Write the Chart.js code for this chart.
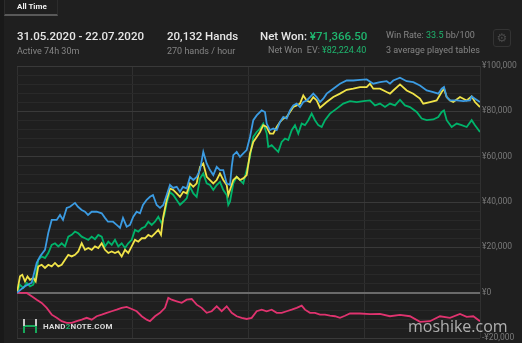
<!DOCTYPE html>
<html>
<head>
<meta charset="utf-8">
<script src="https://cdn.jsdelivr.net/npm/chart.js@4.4.1/dist/chart.umd.min.js"></script>
<style>
html, body { margin: 0; padding: 0; width: 522px; height: 343px; overflow: hidden; background: #1f1f1f; font-family: Roboto, "Noto Sans", sans-serif; }
#strip { position: absolute; left: 0; top: 0; width: 4px; height: 343px; background: #191919; }
#chart { position: absolute; left: 0; top: 0; }
.t { position: absolute; white-space: nowrap; }
.big { font-size: 11.5px; line-height: 14px; color: #e6e6e6; font-weight: 500; }
.small { font-size: 9px; line-height: 11px; color: #858585; }
.g { color: #1fb56e; }
#tab { position: absolute; left: 4px; top: -1px; width: 52px; height: 14px; border: 1px solid #2c2c2c; border-bottom: 2px solid #595959; }
#tab span { position: absolute; left: 12px; top: 2px; font-size: 8px; line-height: 10px; font-weight: 700; color: #f0f0f0; }
#gear { position: absolute; left: 493px; top: 29px; width: 16px; height: 16px; border: 1px solid #333; border-radius: 3px; color: #4a4a4a; font-size: 12px; line-height: 16px; text-align: center; font-family: "DejaVu Sans", sans-serif; }
#logo { position: absolute; left: 22px; top: 319px; width: 16px; height: 14px; }
#logo .a { position: absolute; background: #c8c8c8; }
#logo .b { position: absolute; background: #17a85a; }
#h2n { position: absolute; left: 43px; top: 322px; font-size: 8px; line-height: 10px; font-weight: 700; color: #d8d8d8; letter-spacing: 0.2px; }
#mark { position: absolute; left: 408px; top: 315px; font-family: "Open Sans", sans-serif; font-size: 16px; line-height: 22px; color: rgba(215,215,215,0.78); }
</style>
</head>
<body>
<div id="strip"></div>
<canvas id="chart" width="522" height="352"></canvas>

<div id="tab"><span>All Time</span></div>

<div class="t big" style="left:17px; top:29px;">31.05.2020 - 22.07.2020</div>
<div class="t small" style="left:17px; top:46px;">Active 74h 30m</div>

<div class="t big" style="left:167px; top:29px;">20,132 Hands</div>
<div class="t small" style="left:167px; top:46px;">270 hands / hour</div>

<div class="t big" style="left:260px; top:29px;">Net Won: <span class="g">¥71,366.50</span></div>
<div class="t small" style="left:268px; top:45px;">Net Won&nbsp; EV: <span class="g">¥82,224.40</span></div>

<div class="t small" style="left:386px; top:30px;">Win Rate: <span class="g">33.5</span> bb/100</div>
<div class="t small" style="left:386px; top:45px;">3 average played tables</div>

<div id="gear">⚙</div>

<div id="logo">
  <div class="a" style="left:1px; top:0; width:2px; height:7px;"></div>
  <div class="b" style="left:1px; top:7px; width:2px; height:7px;"></div>
  <div class="a" style="left:13px; top:0; width:2px; height:7px;"></div>
  <div class="b" style="left:13px; top:7px; width:2px; height:7px;"></div>
  <div class="b" style="left:3px; top:6px; width:10px; height:2px;"></div>
</div>
<div id="h2n">HAND<span class="g">2</span>NOTE.COM</div>
<div id="mark">moshike.com</div>

<script>
// blue: showdown winnings
const showdownHands = [
  0, 348, 639, 857, 1000, 1217, 1361, 1509, 1726, 1870,
  2000, 2161, 2304, 2522, 2652, 2813, 2957, 3087, 3248, 3465,
  3683, 3826, 3957, 4174, 4335, 4478, 4609, 4770, 4913, 5057,
  5204, 5348, 5478, 5639, 5783, 5913, 6074, 6218, 6361, 6509,
  6652, 6783, 6944, 7087, 7217, 7378, 7522, 7666, 7813, 7957,
  8100, 8248, 8392, 8535, 8683, 8826, 8970, 9118, 9261, 9335,
  9405, 9553, 9696, 9840, 9987, 10131, 10274, 10422, 10640, 10783,
  10857, 11000, 11144, 11292, 11435, 11579, 11727, 11870, 12013, 12161,
  12305, 12448, 12596, 12739, 12883, 13031, 13174, 13318, 13466, 13753,
  14044, 14335, 14622, 14914, 15205, 15492, 15783, 16074, 16218, 16361,
  16653, 16944, 17231, 17522, 17814, 18101, 18318, 18466, 18566, 18683,
  18827, 19118, 19405, 19696, 19770, 19914, 20132
];
const showdownWon = [
  0, 2800, 4400, 13200, 16000, 18900, 26400, 32100, 32100, 34300,
  32100, 37400, 37900, 39600, 37900, 36500, 35700, 34300, 35700, 35700,
  35000, 33000, 31300, 31300, 29900, 28600, 33000, 29100, 29900, 33500,
  35700, 35000, 38700, 41000, 42300, 43100, 38700, 37400, 38700, 43100,
  47500, 46200, 46700, 44500, 46700, 46000, 51100, 49700, 51100, 54100,
  62100, 57000, 54100, 51900, 55500, 54100, 54100, 48200, 47500, 55500,
  60700, 62100, 59900, 61400, 62900, 68700, 76100, 78200, 80400, 79700,
  74600, 71700, 72400, 71700, 75300, 77500, 76800, 80400, 82600, 83400,
  81900, 84100, 84800, 86300, 87800, 86300, 84100, 85600, 87800, 90000,
  92200, 93600, 93600, 93900, 94100, 92200, 92900, 93300, 92200, 93600,
  94800, 93300, 92900, 91400, 89200, 88500, 87800, 90000, 90700, 86300,
  84800, 84800, 84500, 84800, 86600, 85600, 84100
];

// yellow: all-in EV
const evHands = [
  0, 130, 230, 348, 457, 565, 709, 813, 926, 1074,
  1217, 1361, 1509, 1652, 1796, 1943, 2087, 2230, 2378, 2522,
  2665, 2813, 2957, 3100, 3248, 3391, 3535, 3683, 3826, 3970,
  4118, 4261, 4405, 4552, 4696, 4839, 4987, 5131, 5274, 5422,
  5565, 5709, 5857, 6000, 6144, 6261, 6361, 6509, 6652, 6796,
  6944, 7087, 7231, 7378, 7522, 7666, 7813, 7957, 8100, 8248,
  8392, 8535, 8683, 8826, 8970, 9118, 9187, 9261, 9405, 9553,
  9696, 9840, 9987, 10131, 10274, 10422, 10565, 10709, 10857, 11000,
  11144, 11292, 11435, 11579, 11727, 11870, 12013, 12161, 12305, 12448,
  12596, 12739, 12883, 13031, 13174, 13466, 13753, 14044, 14335, 14622,
  14914, 15205, 15348, 15492, 15783, 16074, 16218, 16361, 16653, 16944,
  17231, 17522, 17666, 17957, 18248, 18466, 18566, 18683, 18827, 18970,
  19262, 19553, 19770, 19914, 20132
];
const evWon = [
  0, 7200, 7900, 5000, 7200, 5700, 6500, 5000, 11600, 12300,
  10900, 12300, 11600, 13100, 11600, 12300, 14500, 16700, 16000, 16700,
  18200, 21800, 18900, 19700, 18900, 20400, 19700, 21800, 18900, 17500,
  18200, 17500, 18200, 16000, 18900, 17500, 20400, 23300, 22500, 24000,
  24000, 25500, 24700, 26200, 27700, 25500, 33500, 40900, 46000, 45300,
  43800, 42300, 44500, 43800, 48200, 46700, 48200, 55500, 57000, 51100,
  49700, 48200, 49700, 52600, 49700, 47500, 43100, 45300, 49700, 51100,
  49700, 50400, 51900, 61400, 66500, 68700, 70900, 73900, 73100, 70200,
  70200, 73100, 75300, 76800, 77500, 79700, 81900, 82600, 83400, 87000,
  84800, 84100, 86300, 84800, 81600, 84100, 86300, 87800, 89500, 90000,
  90700, 90700, 92200, 90000, 90000, 88500, 87800, 89200, 91900, 89200,
  87800, 85600, 83400, 84100, 84800, 88500, 90000, 86300, 84800, 84100,
  86300, 84800, 86600, 84100, 81900
];

// green: net won
const netHands = [
  0, 130, 274, 422, 565, 709, 813, 926, 1074, 1217,
  1361, 1509, 1652, 1796, 1943, 2087, 2230, 2378, 2522, 2665,
  2813, 2957, 3100, 3248, 3391, 3535, 3683, 3826, 3970, 4118,
  4261, 4405, 4552, 4696, 4839, 4987, 5131, 5274, 5422, 5565,
  5709, 5857, 6000, 6144, 6291, 6405, 6509, 6652, 6796, 6944,
  7087, 7231, 7378, 7522, 7666, 7813, 7957, 8100, 8248, 8392,
  8535, 8683, 8826, 8970, 9118, 9187, 9261, 9405, 9553, 9696,
  9840, 9987, 10131, 10274, 10422, 10565, 10709, 10857, 10926, 11074,
  11218, 11361, 11509, 11653, 11796, 11944, 12087, 12231, 12379, 12522,
  12666, 12813, 12957, 13100, 13248, 13392, 13609, 13900, 14187, 14478,
  14770, 15057, 15348, 15566, 15783, 16001, 16218, 16435, 16653, 16870,
  17088, 17379, 17596, 17814, 18101, 18318, 18466, 18566, 18683, 18900,
  19118, 19335, 19553, 19770, 19914, 20132
];
const netWon = [
  0, 3500, 2100, 4300, 2800, 3500, 7200, 14500, 16000, 15300,
  17500, 21100, 21800, 20400, 21800, 20400, 24700, 25500, 26900, 26200,
  24700, 24000, 23300, 24700, 23600, 25500, 24700, 20400, 22500, 21100,
  23300, 20400, 21800, 19700, 21800, 23300, 27700, 26900, 28400, 29100,
  31300, 29900, 31300, 33500, 30600, 34300, 39400, 44400, 43100, 40900,
  38700, 40100, 41600, 46700, 43800, 42300, 50400, 52600, 48200, 47500,
  45300, 47500, 48900, 45300, 43100, 38700, 40100, 48200, 51100, 49700,
  48200, 54100, 59900, 68700, 70900, 72400, 74600, 70200, 64300, 65100,
  63600, 62100, 66500, 68000, 67300, 71700, 73900, 70200, 74600, 73900,
  76100, 79000, 76100, 73900, 73100, 76100, 79000, 81200, 83400, 84500,
  84100, 84500, 84800, 82600, 83400, 81900, 83400, 82600, 85100, 82600,
  81900, 79700, 76800, 76100, 76400, 77500, 79700, 80400, 76100, 73100,
  74600, 73900, 73100, 76100, 73900, 70900
];

// red: non-showdown winnings
const nonShowdownHands = [
  0, 204, 422, 639, 857, 1074, 1291, 1509, 1726, 1943,
  2161, 2378, 2596, 2813, 3031, 3248, 3465, 3683, 3900, 4118,
  4335, 4552, 4770, 4987, 5204, 5422, 5639, 5783, 6000, 6218,
  6435, 6579, 6726, 6944, 7161, 7378, 7596, 7813, 8031, 8248,
  8466, 8683, 8900, 9118, 9335, 9553, 9770, 9987, 10205, 10422,
  10640, 10857, 11074, 11292, 11509, 11727, 11944, 12161, 12379, 12522,
  12739, 12957, 13174, 13392, 13609, 13827, 14044, 14261, 14478, 14914,
  15348, 15783, 16218, 16653, 17088, 17522, 17957, 18392, 18827, 19262,
  19553, 19840, 20132
];
const nonShowdownWon = [
  0, -100, -100, -1600, -3100, -4500, -6700, -9700, -11100, -12600,
  -13300, -13300, -12600, -11900, -11100, -11900, -10400, -9700, -8900, -8200,
  -7500, -6700, -6300, -7200, -8200, -10400, -11900, -12600, -10400, -8900,
  -6700, -2300, -3100, -3800, -4500, -3100, -2800, -5300, -6700, -8900,
  -8200, -6000, -8200, -6000, -8900, -10400, -11100, -11600, -11100, -8200,
  -7500, -8200, -7500, -8900, -8900, -8200, -7500, -6700, -5700, -7500,
  -8900, -8900, -9700, -9700, -10100, -10400, -11100, -10200, -9200, -9200,
  -9500, -9400, -10400, -9800, -10400, -12900, -12600, -10400, -11100, -9400,
  -10700, -10400, -12600
];

const totalHands = 20132;
const yenTicks = [-20000, 0, 20000, 40000, 60000, 80000, 100000];

function points(hands, values) {
  return hands.map((h, i) => ({ x: h, y: values[i] }));
}

function line(hands, values, color) {
  return {
    data: points(hands, values),
    borderColor: color,
    borderWidth: 1.8,
    pointRadius: 0,
    tension: 0,
    fill: false
  };
}

new Chart(document.getElementById('chart'), {
  type: 'line',
  data: {
    datasets: [
      line(showdownHands, showdownWon, '#3b9be2'),
      line(evHands, evWon, '#f0e348'),
      line(netHands, netWon, '#00b36a'),
      line(nonShowdownHands, nonShowdownWon, '#e0336f')
    ]
  },
  options: {
    responsive: false,
    animation: false,
    layout: { padding: { left: 17, top: 66, right: 0, bottom: 0 } },
    plugins: { legend: { display: false }, tooltip: { enabled: false } },
    scales: {
      x: {
        type: 'linear',
        min: 0,
        max: totalHands,
        grid: { color: '#303030', drawTicks: false },
        border: { display: false },
        ticks: {
          stepSize: 5000,
          includeBounds: false,
          maxRotation: 0,
          padding: 3,
          color: '#777',
          font: { family: 'Roboto', size: 8 }
        },
        afterFit: s => { s.height = 14; }
      },
      y: {
        position: 'right',
        min: -20000,
        max: 100000,
        grid: {
          drawTicks: false,
          color: c => {
            if (c.tick && c.tick.value === 0) return '#6a6a6a';
            if (c.tick && yenTicks.includes(c.tick.value)) return '#393939';
            return '#292929';
          },
          lineWidth: c => (c.tick && c.tick.value === 0 ? 2 : 1)
        },
        border: { display: false },
        ticks: {
          stepSize: 4000,
          autoSkip: false,
          padding: 2,
          color: '#7a7a7a',
          font: { family: 'Roboto', size: 8.5 },
          callback: v => {
            if (!yenTicks.includes(v)) return '';
            return (v < 0 ? '-¥' : '¥') + Math.abs(v).toLocaleString('en-US');
          }
        },
        afterFit: s => { s.width = 42; }
      }
    }
  }
});
</script>
</body>
</html>
